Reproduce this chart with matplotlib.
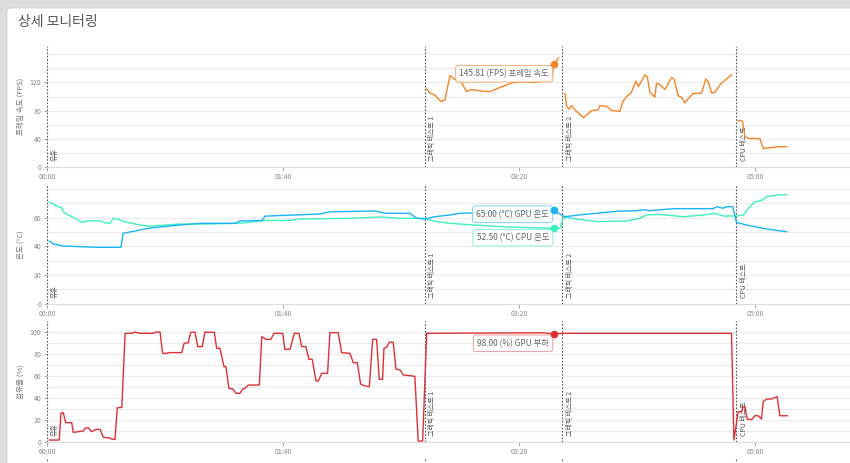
import numpy as np
import matplotlib
matplotlib.use('Agg')
import matplotlib.pyplot as plt
from matplotlib.ticker import FixedLocator, MultipleLocator, FuncFormatter
from matplotlib.patches import FancyBboxPatch

plt.rcParams['font.family'] = ['Noto Sans CJK KR', 'DejaVu Sans']

# ---- data (seconds, values) ----
nan = np.nan

fps_t = [160.9, 162.3, 164.4, 166.8, 168.6, 170.8, 172.5, 175.7, 177.8, 180.0, 183.5, 187.7, 192.0, 197.6,
         202.0, 206.8, 210.0, 213.8, 214.8, 216.7, nan,
         219.5, 220.2, 221.2, 222.3, 223.7, 227.3, 228.7, 230.8, 233.6, 234.3, 237.2, 239.3, 242.8, 244.2,
         246.3, 247.5, 249.6, 250.6, 253.4, 254.4, 255.5, 257.6, 258.3, 259.7, 261.9, 264.7, 265.7, 267.5,
         268.9, 270.3, 273.6, 277.4, 279.2, 280.2, 281.7, 283.1, 285.5, 288.0, 290.1, nan,
         292.9, 294.7, 295.8, 297.2, 302.1, 303.5, 306.4, 310.6, 313.4]
fps_v = [111, 105, 102, 93, 95, 130, 125, 120, 107, 110, 108, 107, 113, 120,
         121, 120, 122, 122, 145.81, 155, nan,
         104, 86, 82, 87, 81, 70, 74, 80, 81, 87, 86, 80, 79, 94,
         102, 105, 122, 114, 131, 128, 106, 99, 119, 117, 110, 127, 125, 101,
         99, 91, 104, 105, 125, 121, 105, 106, 118, 125, 131, nan,
         66, 65, 43, 40.5, 40, 26, 27, 28.5, 28.5]

gpu_temp_t = [1.0, 2.7, 6.9, 21.1, 31.4, 32.2, 43.6, 54.2, 64.8, 79.7, 81.8, 91.1, 92.4, 115.7, 119.9, 139.0,
              143.2, 153.8, 156.7, 160.2, 163.7, 170.8, 175.0, 191.9, 208.9, 214.8, 216.7, 219.5, 223.0,
              225.8, 232.9, 241.4, 249.9, 252.7, 255.5, 265.4, 282.3, 283.8, 286.4, 288.1, 290.6, 292.2,
              296.5, 303.5, 310.6, 313.4]
gpu_temp_v = [43.7, 41.6, 40.2, 39.3, 39.3, 49, 52.7, 54.5, 56, 56, 57.6, 58, 61, 62.5, 64, 64.6,
              63, 63, 59.5, 59, 60.5, 61.8, 63, 63.5, 64.5, 65.0, 63, 60.6, 61.3,
              61.9, 63, 64.4, 64.8, 65.5, 64.8, 66.2, 66.2, 67.6, 66.5, 67.6, 67.6, 56.7,
              54.8, 52.5, 50.7, 50.2]

cpu_temp_t = [1.0, 2.7, 4.8, 6.2, 6.9, 9.0, 11.9, 14.7, 17.5, 22.5, 24.6, 26.7, 28.1, 30.2, 33.1, 39.4,
              43.6, 50.0, 56.4, 64.8, 81.8, 92.4, 103.0, 107.2, 128.4, 141.0, 149.6, 160.2, 163.7, 170.8,
              180.9, 195.0, 214.8, 217.4, 218.8, 220.2, 224.4, 232.9, 245.6, 251.2, 254.1, 259.7, 269.6,
              278.1, 283.1, 286.6, 292.2, 295.1, 297.2, 300.0, 302.8, 305.0, 309.2, 313.4]
cpu_temp_v = [71, 69.3, 67.6, 67, 64.1, 61.8, 59.5, 56.7, 57.8, 57.6, 56.4, 56, 59.5, 58.8, 57, 54.8,
              54, 54.8, 55.5, 55.5, 56, 58, 58, 59, 59.5, 60.4, 59.5, 59.5, 57.6, 56,
              54.8, 53.5, 52.5, 52.5, 59.5, 60.2, 59, 57.2, 57.6, 59.5, 61.8, 62.2, 60.6,
              61.8, 63, 61.1, 61.1, 61.8, 66.5, 71, 71.8, 74.6, 75.7, 76]

load_t = [1.0, 5.2, 5.9, 6.9, 7.9, 10.5, 11.1, 13.3, 15.4, 16.1, 17.5, 18.9, 20.8, 22.5, 23.9, 26.0, 27.4,
          28.8, 29.8, 31.7, 33.1, 35.9, 37.3, 39.4, 45.0, 46.1, 47.9, 49.0, 50.7, 52.1, 57.1, 58.1, 59.9,
          60.9, 62.7, 63.9, 65.8, 66.9, 70.9, 71.9, 73.3, 75.0, 75.8, 77.1, 78.7, 80.1, 81.8, 82.9, 83.9,
          85.3, 90.0, 91.0, 92.8, 94.8, 96.2, 99.9, 100.8, 103.0, 104.8, 106.8, 107.9, 109.7, 111.0, 112.4,
          114.0, 115.0, 116.4, 118.9, 119.9, 123.4, 124.9, 128.4, 129.8, 131.5, 132.9, 134.3, 136.6, 138.0,
          139.7, 140.8, 142.2, 142.8, 144.2, 145.0, 146.7, 147.9, 149.6, 151.0, 153.8, 155.9, 157.3, 159.2,
          160.9, 210.2, 214.8, 218.8, 290.1, 291.1, 292.9, 294.4, 295.0, 295.8, 296.7, 298.6, 300.0, 301.4,
          302.8, 303.5, 305.0, 307.1, 309.4, 310.6, 313.7]
load_v = [1.5, 1.5, 25.8, 26.4, 17.3, 17.3, 8.5, 9.1, 9.7, 12.1, 12.7, 9.1, 11.2, 11.2, 4, 3.6, 2.4,
          2, 30.9, 31.2, 98.5, 98.5, 99.7, 98.5, 98.5, 99.7, 99.7, 80.3, 80.3, 81, 81, 89.4, 90,
          99.4, 99.4, 86.4, 86.4, 99.4, 99.4, 84.9, 84.9, 68.2, 68.2, 48.5, 47.9, 44, 44, 47.9, 48.5,
          51.5, 51.5, 95.5, 93, 93, 98.5, 98.5, 84, 84, 98.5, 98.5, 86.4, 86.4, 74.9, 74.9,
          55.2, 55.2, 62.1, 62.1, 99.1, 99.1, 80.9, 80.3, 71.8, 71.8, 52.5, 51, 50, 93,
          93, 56.7, 56.7, 84.9, 86.4, 90.4, 90.4, 66.1, 65.2, 60.6, 60, 59.4, 0.6, 0.6,
          98.5, 99, 98, 98.5, 98.5, 1.5, 27.3, 27.3, 31.8, 31.8, 20.6, 20, 23.6, 23.6,
          20.6, 36.4, 38.8, 38.8, 40.9, 23.6, 23.6]

# test phase markers
phase_t = [0, 160, 218.2, 292]
phase_names = ['유휴', '그래픽 테스트 1', '그래픽 테스트 2', 'CPU 테스트']

hover_t = 214.8

# ---- figure ----
fig = plt.figure(figsize=(8.5, 4.63), dpi=100)
fig.patch.set_facecolor('#dddddd')
card = FancyBboxPatch((7 / 850, -0.1), 1.2, 1.1 - 8 / 463, boxstyle='round,pad=0,rounding_size=0.006',
                      transform=fig.transFigure, facecolor='white', edgecolor='#d0d0d0', lw=0.6, zorder=-5)
fig.patches.append(card)
fig.text(18 / 850, 1 - 22 / 463, '상세 모니터링', fontsize=10, color='#555555', va='center', ha='left')

xmax = 340.3
left = 47 / 850
width = 1 - left


def mmss(x, pos):
    return '%02d:%02d' % (int(x) // 60, int(x) % 60)


def setup(ax, ymax, major, minor, ylabel):
    ax.set_xlim(0, xmax)
    ax.set_ylim(0, ymax)
    ax.set_facecolor('none')
    for s in ['top', 'right', 'left']:
        ax.spines[s].set_visible(False)
    ax.spines['bottom'].set_color('#dddddd')
    ax.spines['bottom'].set_linewidth(0.8)
    ax.yaxis.set_major_locator(FixedLocator(major))
    ax.yaxis.set_minor_locator(MultipleLocator(minor))
    ax.xaxis.set_major_locator(MultipleLocator(100))
    ax.xaxis.set_major_formatter(FuncFormatter(mmss))
    ax.grid(True, axis='y', which='both', color='#ececec', lw=0.8)
    ax.tick_params(axis='y', which='major', length=2.5, width=0.6, color='#999999', labelsize=5, labelcolor='#888888', pad=1.5)
    ax.tick_params(axis='y', which='minor', length=0)
    ax.tick_params(axis='x', length=3, width=0.6, color='#999999', labelsize=5, labelcolor='#888888', pad=1.5)
    ax.set_ylabel(ylabel, fontsize=5.5, color='#777777')
    ax.yaxis.set_label_coords(-0.028, 0.5)
    for t, name in zip(phase_t, phase_names):
        ax.axvline(t, color='#555555', lw=0.8, ls=(0, (1.5, 1.5)), zorder=3)
        ax.text(t + 1.6, ymax * 0.045, name, rotation=90, fontsize=5, color='#555555', ha='left', va='bottom', zorder=4)


def tooltip(ax, t, v, text, color, dy=0):
    ax.annotate(text, xy=(t, v), xytext=(-3.5, -3.5 + dy), textcoords='offset points', ha='right', va='top',
                fontsize=6, color='#666666', zorder=7,
                bbox=dict(boxstyle='round,pad=0.45,rounding_size=0.3', fc='white', ec=color, lw=0.7, alpha=0.85))


# panel 1: FPS
ax1 = fig.add_axes([left, 1 - 166.7 / 463, width, 120.7 / 463])
setup(ax1, 172, [0, 40, 80, 120], 20, '프레임 속도 (FPS)')
ax1.plot(fps_t, fps_v, color='#f28528', lw=1.0, zorder=5)
tooltip(ax1, hover_t, 145.81, '145.81 (FPS) 프레임 속도', '#f6a560')
ax1.plot([hover_t], [145.81], 'o', color='#f28528', ms=4.5, zorder=8)

# panel 2: temperature
ax2 = fig.add_axes([left, 1 - 303.7 / 463, width, 118.7 / 463])
setup(ax2, 82.7, [0, 20, 40, 60], 10, '온도 (°C)')
ax2.plot(cpu_temp_t, cpu_temp_v, color='#3cf0bf', lw=1.0, zorder=5)
ax2.plot(gpu_temp_t, gpu_temp_v, color='#1cb4f8', lw=1.0, zorder=5)
tooltip(ax2, hover_t, 65.0, '65.00 (°C) GPU 온도', '#6cccf8', dy=4)
tooltip(ax2, hover_t, 52.5, '52.50 (°C) CPU 온도', '#6ef2cf')
ax2.plot([hover_t], [65.0], 'o', color='#1cb4f8', ms=4.5, zorder=8)
ax2.plot([hover_t], [52.5], 'o', color='#3cf0bf', ms=4.5, zorder=8)

# panel 3: GPU load
ax3 = fig.add_axes([left, 1 - 441.7 / 463, width, 120.7 / 463])
setup(ax3, 109.7, [0, 20, 40, 60, 80, 100], 10, '점유율 (%)')
ax3.plot(load_t, load_v, color='#dc3035', lw=1.0, zorder=5)
tooltip(ax3, hover_t, 98.0, '98.00 (%) GPU 부하', '#e88a8d')
ax3.plot([hover_t], [98.0], 'o', color='#dc3035', ms=4.5, zorder=8)

# panel 4 (cut off at the bottom)
ax4 = fig.add_axes([left, 1 - 580 / 463, width, 121 / 463])
ax4.set_xlim(0, xmax)
ax4.set_ylim(0, 100)
ax4.axis('off')
for t in phase_t:
    ax4.axvline(t, color='#555555', lw=0.8, ls=(0, (1.5, 1.5)))

fig.savefig('out.png', dpi=100, facecolor=fig.get_facecolor())
